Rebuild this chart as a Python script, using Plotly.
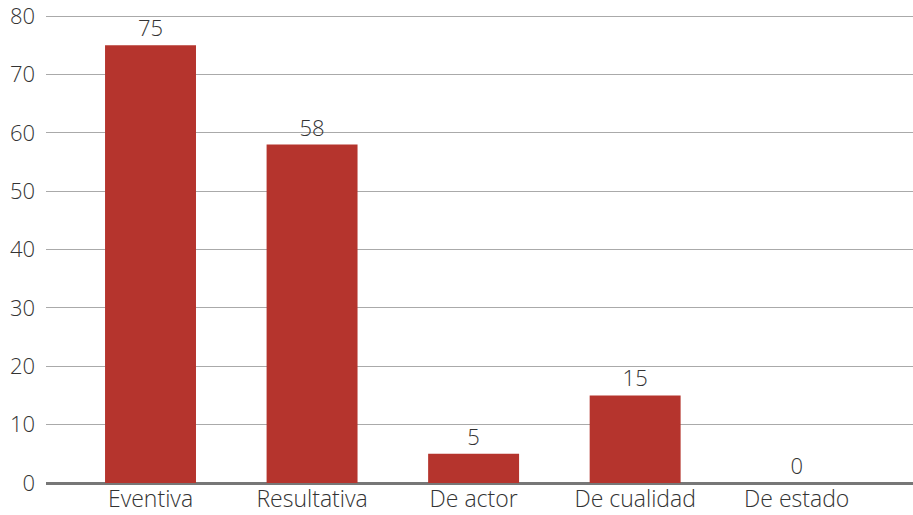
import plotly.graph_objects as go

categories = ["Eventiva", "Resultativa", "De actor", "De cualidad", "De estado"]
values = [75, 58, 5, 15, 0]
y_ticks = [0, 10, 20, 30, 40, 50, 60, 70, 80]

FONT = "Open Sans"
COL = "#333333"

fig = go.Figure(go.Bar(
    x=categories, y=values,
    marker=dict(color="#B5342D", line=dict(width=0)),
    text=[str(v) for v in values], textposition="outside",
    textfont=dict(family=FONT, size=22, color=COL, weight=300),
    cliponaxis=False, width=0.563,
))

fig.update_layout(
    width=913, height=515,
    margin=dict(l=46, r=0, t=15, b=32, autoexpand=False),
    plot_bgcolor="white", paper_bgcolor="white",
    showlegend=False,
    font=dict(family=FONT, size=22, color=COL),
    xaxis=dict(range=[-0.647, 4.72], showgrid=False, ticks="", showline=False, automargin=False,
               ticklabelstandoff=0, ticklabeloverflow="allow",
               tickfont=dict(family=FONT, size=23, color=COL, weight=300)),
    yaxis=dict(range=[0, 80.2], tickvals=y_ticks, showgrid=True, gridcolor="#AAAAAA", gridwidth=1,
               zeroline=True, zerolinecolor="#777777", zerolinewidth=2.5, automargin=False,
               ticks="", ticklabelstandoff=10, ticklabeloverflow="allow",
               tickfont=dict(family=FONT, size=22, color=COL, weight=300)),
)

fig.write_html("out.html", config={"displayModeBar": False},
               post_script="document.body.style.margin='0';")
